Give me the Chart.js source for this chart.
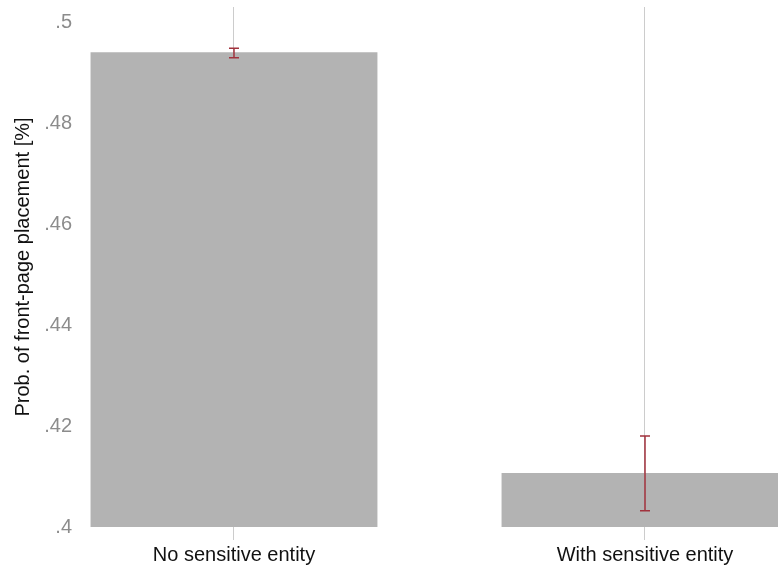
<!DOCTYPE html>
<html>
<head>
<meta charset="utf-8">
<script src="https://cdn.jsdelivr.net/npm/chart.js@4/dist/chart.umd.min.js"></script>
<style>
  html, body { margin: 0; padding: 0; background: #fff; overflow: hidden; }
</style>
</head>
<body>
<canvas id="bpChart" width="778" height="568"></canvas>
<script>
// values
const categories = ["No sensitive entity", "With sensitive entity"];
const means = [0.4940, 0.4107];
const ciLow = [0.4929, 0.4032];
const ciHigh = [0.4948, 0.4180];
const yTicks = [0.4, 0.42, 0.44, 0.46, 0.48, 0.5];

const FONT = "'Liberation Sans', Arial, Helvetica, sans-serif";
const ctx = document.getElementById("bpChart").getContext("2d");

// red confidence-interval whiskers on top of the bars
const errorBars = {
  id: "errorBars",
  afterDatasetsDraw(chart) {
    const xs = chart.scales.x;
    const ys = chart.scales.y;
    const c = chart.ctx;
    c.save();
    c.strokeStyle = "#a1323d";
    c.lineWidth = 1.5;
    means.forEach((m, i) => {
      const x = xs.getPixelForValue(i);
      const top = ys.getPixelForValue(ciHigh[i]);
      const bot = ys.getPixelForValue(ciLow[i]);
      c.beginPath();
      c.moveTo(x, top); c.lineTo(x, bot);
      c.moveTo(x - 5, top); c.lineTo(x + 5, top);
      c.moveTo(x - 5, bot); c.lineTo(x + 5, bot);
      c.stroke();
    });
    c.restore();
  }
};

new Chart(ctx, {
  type: "bar",
  data: {
    datasets: [{
      data: means.map((v, i) => ({ x: i, y: v })),
      backgroundColor: "#b3b3b3",
      borderWidth: 0,
      categoryPercentage: 1,
      barPercentage: 0.698
    }]
  },
  options: {
    responsive: false,
    animation: false,
    layout: { padding: { top: 7, left: 0, right: 0, bottom: 0 } },
    plugins: { legend: { display: false }, tooltip: { enabled: false } },
    scales: {
      x: {
        type: "linear",
        offset: false,
        min: -0.3625,
        max: 1.3236,
        afterBuildTicks: (axis) => { axis.ticks = categories.map((_, i) => ({ value: i })); },
        afterFit: (axis) => { axis.height = 41; axis.paddingLeft = 0; axis.paddingRight = 0; },
        grid: { offset: false, color: "#cccccc", lineWidth: 1, drawTicks: true, tickLength: 13 },
        border: { display: false },
        ticks: {
          color: "#111",
          font: { family: FONT, size: 20 },
          padding: 3,
          maxRotation: 0,
          callback: (v) => categories[v] ?? ""
        }
      },
      y: {
        min: 0.4,
        max: 0.50297,
        afterBuildTicks: (axis) => { axis.ticks = yTicks.map((v) => ({ value: v })); },
        afterFit: (axis) => { axis.width = 85; axis.paddingTop = 0; axis.paddingBottom = 0; },
        grid: { display: false, drawTicks: false },
        border: { display: false },
        ticks: {
          color: "#8c8c8c",
          font: { family: FONT, size: 20 },
          padding: 13,
          callback: (v) => Number(v.toFixed(2)).toString().replace(/^0/, "")
        },
        title: {
          display: true,
          text: "Prob. of front-page placement [%]",
          color: "#111",
          font: { family: FONT, size: 20 },
          padding: { top: 11, bottom: 0 }
        }
      }
    }
  },
  plugins: [errorBars]
});
</script>
</body>
</html>
